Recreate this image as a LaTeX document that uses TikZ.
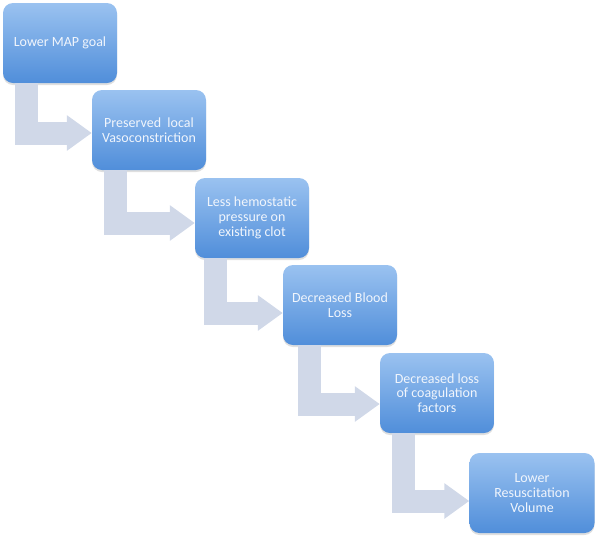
\documentclass[tikz,border=0pt]{standalone}
\usepackage{fontspec}
\setmainfont{Carlito}
\usetikzlibrary{arrows.meta,calc,shadows}
\definecolor{boxtop}{RGB}{154,194,240}
\definecolor{boxbottom}{RGB}{80,142,218}
\definecolor{flowgray}{RGB}{208,216,232}
\definecolor{stagetext}{RGB}{240,245,252}

\begin{document}
\begin{tikzpicture}[x=1pt,y=-1pt,
  stage/.style={rectangle,rounded corners=10pt,minimum width=114pt,minimum height=80pt,
    align=center,top color=boxtop,bottom color=boxbottom,text=stagetext,
    font=\fontsize{14}{14.8}\selectfont,
    drop shadow={opacity=0.25,shadow xshift=0pt,shadow yshift=-2pt}},
  flow/.style={draw=flowgray,line width=23pt,-{Triangle[length=25pt 0 0,width=34pt 0 0]}}]
\useasboundingbox (0,0) rectangle (600,539);

\node[stage] (lmap) at (60,43) {Lower MAP goal};
\node[stage] (vaso) at (149,130) {Preserved~ local\\Vasoconstriction};
\node[stage] (press) at (252,218) {Less hemostatic\\pressure on\\existing clot};
\node[stage] (blood) at (340,305) {Decreased Blood\\Loss};
\node[stage] (coag) at (437,393) {Decreased loss\\of coagulation\\factors};
\node[stage,minimum width=125pt] (resus) at (532,493) {Lower\\Resuscitation\\Volume};

\draw[flow] ($(lmap.south west)+(24,0)$) |- ($(vaso.west)+(0,3)$);
\draw[flow] ($(vaso.south west)+(24,0)$) |- ($(press.west)+(0,5)$);
\draw[flow] ($(press.south west)+(21,0)$) |- ($(blood.west)+(0,8)$);
\draw[flow] ($(blood.south west)+(27,0)$) |- ($(coag.west)+(0,11)$);
\draw[flow] ($(coag.south west)+(24,0)$) |- ($(resus.west)+(0,8)$);
\end{tikzpicture}
\end{document}
